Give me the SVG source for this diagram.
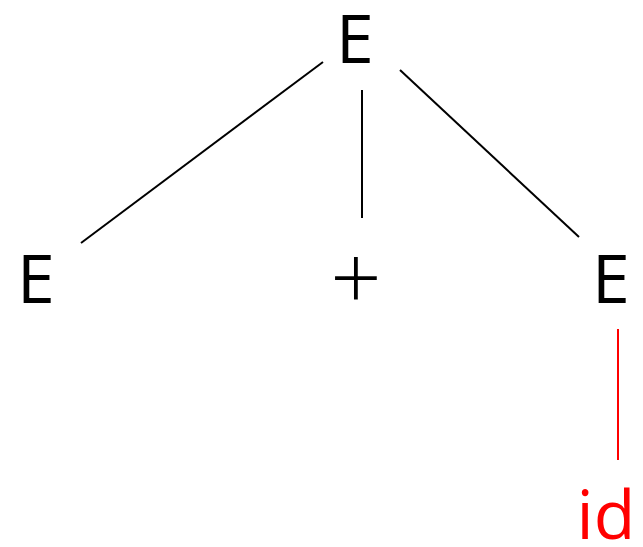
<svg xmlns="http://www.w3.org/2000/svg" width="643" height="547" viewBox="0 0 643 547">
<style>
.t{font-family:"Open Sans","DejaVu Sans",sans-serif;font-size:68px;font-weight:400;text-anchor:middle}
.p{font-size:90px;font-weight:300}
.e{stroke:#000;stroke-width:2;fill:none}
</style>
<rect width="643" height="547" fill="#fff"/>
<g id="connectors">
<line class="e" x1="323" y1="62" x2="81" y2="243"/>
<line class="e" x1="362" y1="90" x2="362" y2="218"/>
<line class="e" x1="400" y1="70" x2="579" y2="237"/>
<line x1="618" y1="329" x2="618" y2="460" stroke="#f00" stroke-width="2"/>
</g>
<g id="n_root"><text class="t" x="355" y="63">E</text></g>
<g id="n_left"><text class="t" x="36" y="303">E</text></g>
<g id="n_plus"><text class="t p" x="356" y="310">+</text></g>
<g id="n_right"><text class="t" x="611" y="303">E</text></g>
<g id="n_id"><text class="t" x="606" y="539" fill="#f00">id</text></g>
</svg>
